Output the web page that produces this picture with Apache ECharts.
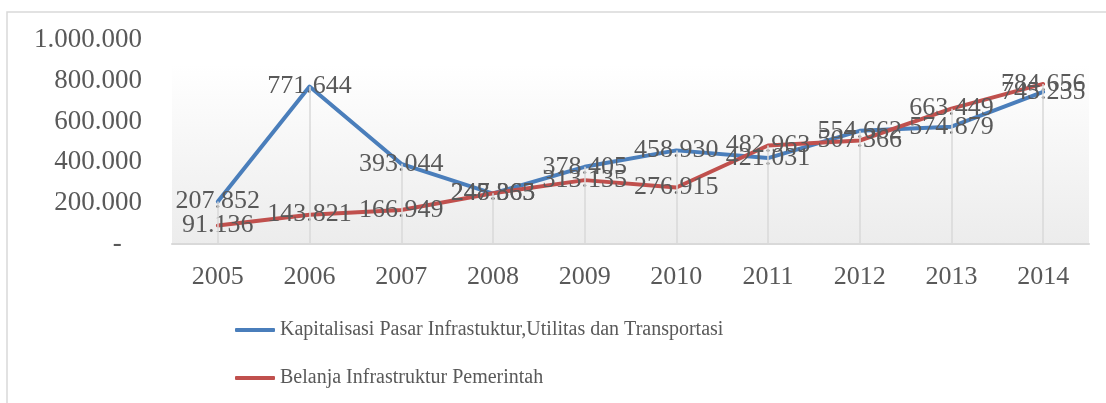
<!DOCTYPE html>
<html>
<head>
<meta charset="utf-8">
<script src="https://cdn.jsdelivr.net/npm/echarts@6/dist/echarts.min.js"></script>
<style>
  html, body { margin: 0; padding: 0; background: #fff; }
  #chart { width: 1106px; height: 403px; }
</style>
</head>
<body>
<div id="chart"></div>
<script>
// data
const years = ['2005', '2006', '2007', '2008', '2009', '2010', '2011', '2012', '2013', '2014'];
const kapitalisasi = [207852, 771644, 393044, 247365, 378405, 458930, 421031, 554662, 574879, 745235];
const belanja = [91136, 143821, 166949, 248863, 313135, 276915, 482963, 507366, 663449, 784656];
const yTicks = [0, 200000, 400000, 600000, 800000, 1000000];

const seriesNames = [
  'Kapitalisasi Pasar Infrastuktur,Utilitas dan Transportasi',
  'Belanja Infrastruktur Pemerintah',
];

const FONT = 'Liberation Serif';
const TEXT = '#595959';
const BLUE = '#4a7ebb';
const RED = '#c0504d';

// 1234567 -> 1.234.567
function fmt(n) {
  return String(n).replace(/\B(?=(\d{3})+(?!\d))/g, '.');
}

// drop lines from the highest point of each year down to the axis
const dropLines = years.map((y, i) => [
  { coord: [y, Math.max(kapitalisasi[i], belanja[i])] },
  { coord: [y, 0] },
]);

const labelStyle = {
  show: true,
  position: 'inside',
  color: TEXT,
  fontFamily: FONT,
  fontSize: 26,
  formatter: (p) => fmt(p.value),
};

const chart = echarts.init(document.getElementById('chart'));
chart.setOption({
  animation: false,
  graphic: [
    {
      type: 'rect',
      shape: { x: 7, y: 12, width: 1200, height: 500 },
      style: { fill: 'none', stroke: '#d9d9d9', lineWidth: 1.5 },
      silent: true,
    },
    {
      // bottom of the page text above the chart, cut off
      type: 'text',
      x: 93,
      y: -23,
      style: { text: 'pembangunan', fontFamily: FONT, fontSize: 24, fill: '#000', verticalAlign: 'top' },
      silent: true,
    },
  ],
  grid: {
    left: 172,
    right: 17,
    top: 40,
    bottom: 159,
    show: true,
    borderWidth: 0,
    backgroundColor: new echarts.graphic.LinearGradient(0, 0, 0, 1, [
      { offset: 0, color: '#ffffff' },
      { offset: 0.12, color: '#ffffff' },
      { offset: 1, color: '#ececec' },
    ]),
  },
  legend: {
    orient: 'vertical',
    left: 230,
    top: 315,
    icon: 'roundRect',
    itemWidth: 40,
    itemHeight: 4,
    itemGap: 28,
    data: seriesNames,
    textStyle: { fontFamily: FONT, fontSize: 20, color: TEXT },
  },
  xAxis: {
    type: 'category',
    data: years,
    boundaryGap: true,
    axisLine: { lineStyle: { color: '#d9d9d9', width: 2 } },
    axisTick: { show: false },
    splitLine: { show: false },
    axisLabel: { color: TEXT, fontFamily: FONT, fontSize: 26, margin: 20 },
  },
  yAxis: {
    type: 'value',
    min: yTicks[0],
    max: yTicks[yTicks.length - 1],
    interval: yTicks[1] - yTicks[0],
    axisLine: { show: false },
    axisTick: { show: false },
    splitLine: { show: false },
    axisLabel: {
      color: TEXT,
      fontFamily: FONT,
      fontSize: 27,
      margin: 30,
      formatter: (v) => (v === 0 ? '-   ' : fmt(v)),
    },
  },
  series: [
    {
      type: 'line',
      name: '_drop',
      data: [],
      z: 1,
      markLine: {
        silent: true,
        symbol: 'none',
        label: { show: false },
        lineStyle: { color: '#d9d9d9', width: 1.5, type: 'solid' },
        data: dropLines,
      },
    },
    {
      type: 'line',
      name: seriesNames[0],
      data: kapitalisasi,
      color: BLUE,
      symbol: 'circle',
      symbolSize: 2,
      itemStyle: { color: BLUE },
      lineStyle: { color: BLUE, width: 4, cap: 'round', join: 'round' },
      label: labelStyle,
      z: 3,
    },
    {
      type: 'line',
      name: seriesNames[1],
      data: belanja,
      color: RED,
      symbol: 'circle',
      symbolSize: 2,
      itemStyle: { color: RED },
      lineStyle: { color: RED, width: 4, cap: 'round', join: 'round' },
      label: labelStyle,
      z: 3,
    },
  ],
});
</script>
</body>
</html>
